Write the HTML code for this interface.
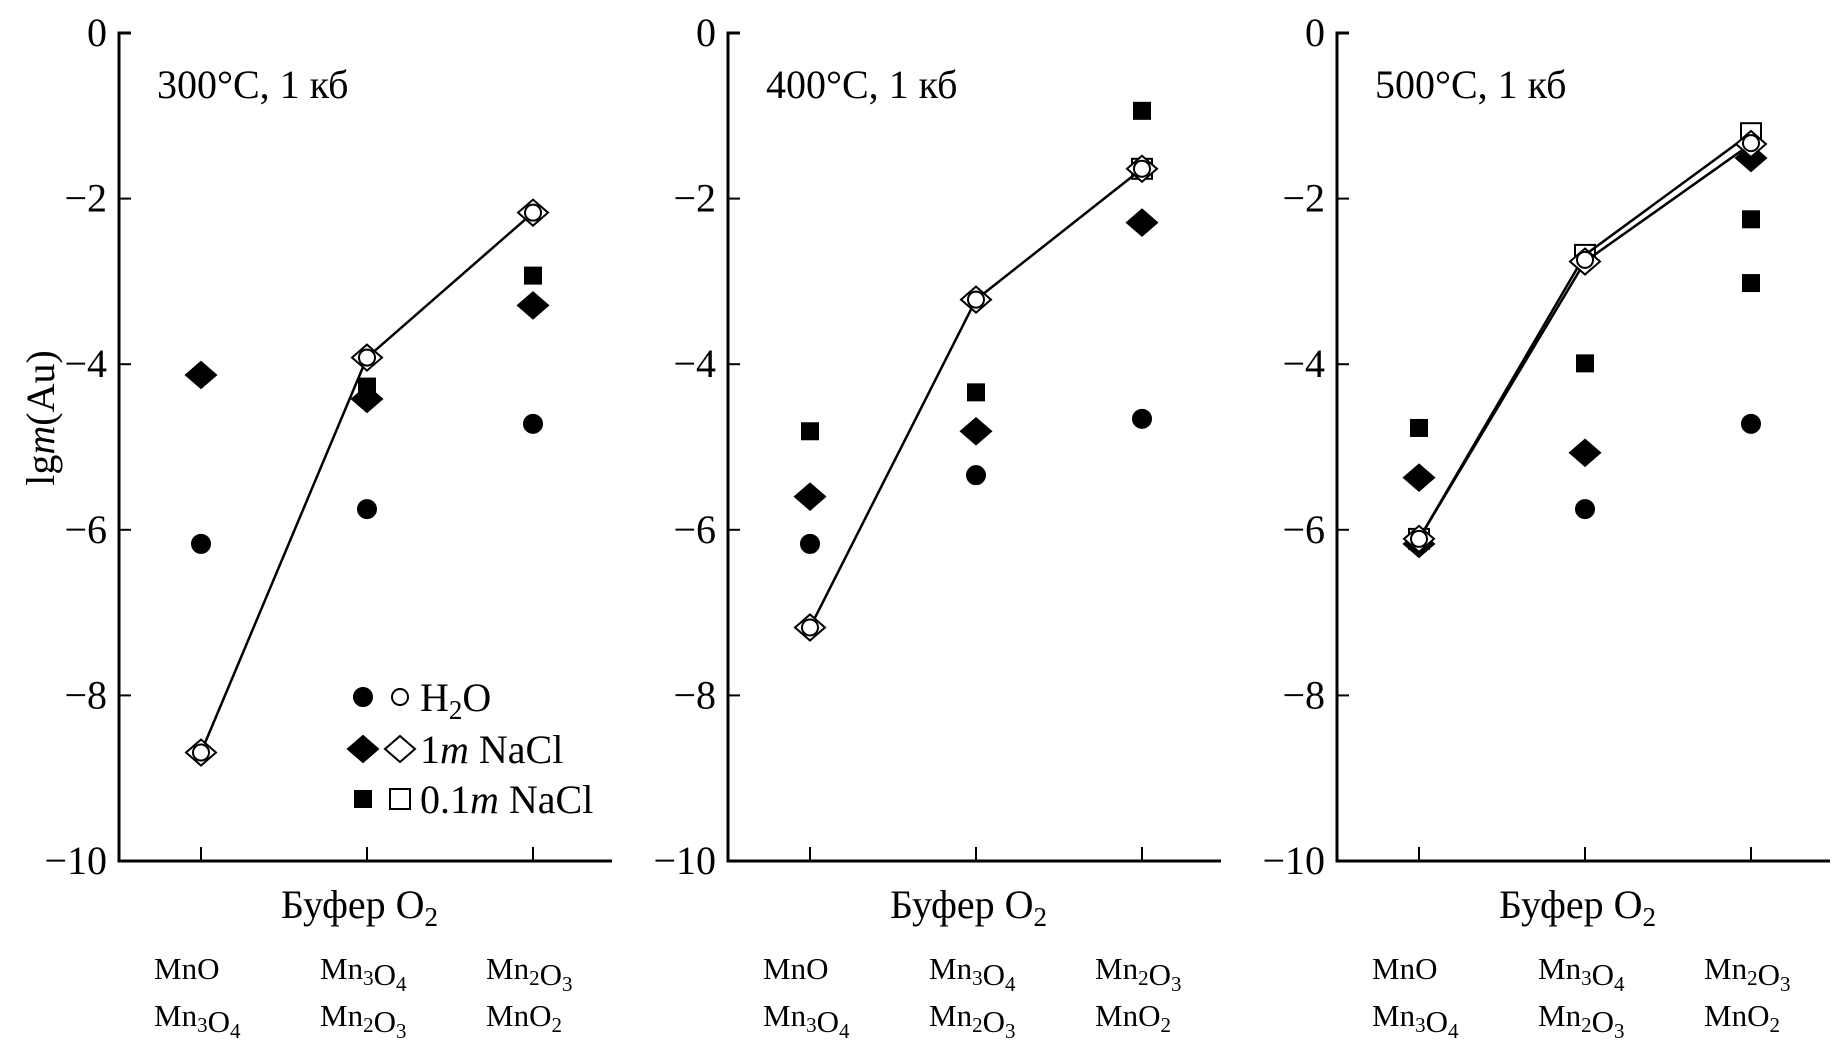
<!DOCTYPE html>
<html><head><meta charset="utf-8"><style>
html,body{margin:0;padding:0;background:#fff;}
svg, svg text{font-family:"Liberation Serif","Times New Roman",serif;}
</style></head><body>
<svg id="chart" width="1844" height="1041" viewBox="0 0 1844 1041" xmlns="http://www.w3.org/2000/svg" font-family="Liberation Serif, serif"></svg>
<script>
const panelTitles = ["300°C, 1 кб", "400°C, 1 кб", "500°C, 1 кб"];
const yTicks = [0, -2, -4, -6, -8, -10];
const buffersTop = ["MnO", "Mn3O4", "Mn2O3"];
const buffersBottom = ["Mn3O4", "Mn2O3", "MnO2"];
const h2oFilled   = [[-6.17, -5.75, -4.72], [-6.17, -5.34, -4.66], [-6.17, -5.75, -4.72]];
const h2oOpen     = [[-8.69, -3.92, -2.17], [-7.18, -3.22, -1.64], [-6.11, -2.74, -1.33]];
const naclFilled  = [[-4.13, -4.42, -3.29], [-5.60, -4.81, -2.29], [-5.37, -5.07, -1.51]];
const naclOpen    = [[-8.69, -3.92, -2.17], [-7.18, -3.22, -1.64], [-6.11, -2.76, -1.34]];
const nacl01Filled= [[null, -4.27, -2.93], [-4.81, -4.34, -0.94], [-4.77, -3.99, -2.25]];
const nacl01Filled2=[[null, null, null], [null, null, null], [null, null, -3.02]];
const nacl01Open  = [[null, null, null], [null, null, -1.64], [-6.11, -2.68, -1.21]];
const extraFilledDiamond = [[null,null,null],[null,null,null],[-6.17,null,null]];

const svg = document.getElementById('chart');
const NS = 'http://www.w3.org/2000/svg';
const FF = '"Liberation Serif", serif';
function mk(tag, attrs, parent){const e=document.createElementNS(NS,tag);for(const k in attrs)e.setAttribute(k,attrs[k]);if(tag==='text')e.setAttribute('font-family',FF);(parent||svg).appendChild(e);return e;}
const panelX = [119, 728, 1337];
const axisLen = 493, y0 = 33, y10 = 861;
function yS(v){return y0 + (-v/10)*(y10-y0);}
function xS(p,i){return panelX[p] + 82 + i*166;}

function circle(x,y,fill,g,name){const c=mk('circle',{cx:x,cy:y,r:fill?9:8,fill:fill?'#000':'none',stroke:'#000','stroke-width':2},g);

}
function diamond(x,y,fill,g,name){const d=13;const p=mk('polygon',{points:`${x},${y-d} ${x+d+2},${y} ${x},${y+d} ${x-d-2},${y}`,fill:fill?'#000':'#fff',stroke:'#000','stroke-width':2},g);

}
function square(x,y,fill,g,name){const s=fill?9:10;const r=mk('rect',{x:x-s,y:y-s,width:2*s,height:2*s,fill:fill?'#000':'none',stroke:'#000','stroke-width':fill?0:2},g);

}

for(let p=0;p<3;p++){
  const g=mk('g',{});
  
  
  const ax=panelX[p];
  const yl=mk('path',{d:`M${ax+12},${y0} H${ax} V${y10} H${ax+axisLen}`,fill:'none',stroke:'#000','stroke-width':3},g);
  
  
  yTicks.forEach(t=>{
    mk('line',{x1:ax,x2:ax+12,y1:yS(t),y2:yS(t),stroke:'#000','stroke-width':2},g);
    const tx=mk('text',{x:ax-12,y:yS(t)+13,'text-anchor':'end','font-size':40},g);
    tx.textContent=(t<0?'\u2212'+(-t):'0');
    
    
  });
  for(let i=0;i<3;i++){
    mk('line',{x1:xS(p,i),x2:xS(p,i),y1:y10,y2:y10-14,stroke:'#000','stroke-width':2},g);
    const a=mk('text',{x:xS(p,i)-47,y:979,'font-size':31},g);
    a.innerHTML=buffersTop[i].replace(/(\d)/g,'<tspan font-size="21" dy="6">$1</tspan><tspan dy="-6"></tspan>');
    
    
    const b=mk('text',{x:xS(p,i)-47,y:1026,'font-size':31},g);
    b.innerHTML=buffersBottom[i].replace(/(\d)/g,'<tspan font-size="21" dy="6">$1</tspan><tspan dy="-6"></tspan>');
    
    
  }
  const xt=mk('text',{x:xS(p,1)-86,y:918,'font-size':40},g);
  xt.innerHTML='Буфер O<tspan font-size="27" dy="8">2</tspan>';
  
  
  const tt=mk('text',{x:ax+38,y:98,'font-size':40},g);
  tt.textContent=panelTitles[p];
  
  

  function line(arr,name){const pts=[];arr[p].forEach((v,i)=>{if(v!==null)pts.push(xS(p,i)+','+yS(v));});
    if(pts.length>1){const l=mk('polyline',{points:pts.join(' '),fill:'none',stroke:'#000','stroke-width':2.5},g);
    
    }}
  line(naclOpen,'line-1m-nacl');
  if(p===2) line(nacl01Open,'line-01m-nacl');

  for(let i=0;i<3;i++){
    const x=xS(p,i);
    if(h2oFilled[p][i]!==null) circle(x,yS(h2oFilled[p][i]),true,g,'point-h2o-filled');
    if(extraFilledDiamond[p][i]!==null) diamond(x,yS(extraFilledDiamond[p][i]),true,g,'point-1m-nacl-filled');
    if(naclFilled[p][i]!==null) diamond(x,yS(naclFilled[p][i]),true,g,'point-1m-nacl-filled');
    if(nacl01Filled[p][i]!==null) square(x,yS(nacl01Filled[p][i]),true,g,'point-01m-nacl-filled');
    if(nacl01Filled2[p][i]!==null) square(x,yS(nacl01Filled2[p][i]),true,g,'point-01m-nacl-filled');
    if(nacl01Open[p][i]!==null) square(x,yS(nacl01Open[p][i]),false,g,'point-01m-nacl-open');
    if(naclOpen[p][i]!==null) diamond(x,yS(naclOpen[p][i]),false,g,'point-1m-nacl-open');
    if(h2oOpen[p][i]!==null) circle(x,yS(h2oOpen[p][i]),false,g,'point-h2o-open');
  }
}
const yl=mk('text',{x:0,y:0,'font-size':40,transform:'translate(54,418) rotate(-90)','text-anchor':'middle'});
yl.innerHTML='lg<tspan font-style="italic">m</tspan>(Au)';


const lg=mk('g',{});


const ly=[697,749,799];
circle(363,ly[0],true,lg,'legend-h2o-filled');circle(400,ly[0],false,lg,'legend-h2o-open');
diamond(363,ly[1],true,lg,'legend-nacl-filled');diamond(400,ly[1],false,lg,'legend-nacl-open');
square(363,ly[2],true,lg,'legend-01nacl-filled');square(400,ly[2],false,lg,'legend-01nacl-open');
const t1=mk('text',{x:420,y:ly[0]+14,'font-size':40},lg);t1.innerHTML='H<tspan font-size="27" dy="8">2</tspan><tspan dy="-8">O</tspan>';


const t2=mk('text',{x:420,y:ly[1]+14,'font-size':40},lg);t2.innerHTML='1<tspan font-style="italic">m</tspan> NaCl';


const t3=mk('text',{x:420,y:ly[2]+14,'font-size':40},lg);t3.innerHTML='0.1<tspan font-style="italic">m</tspan> NaCl';


</script>
</body></html>
